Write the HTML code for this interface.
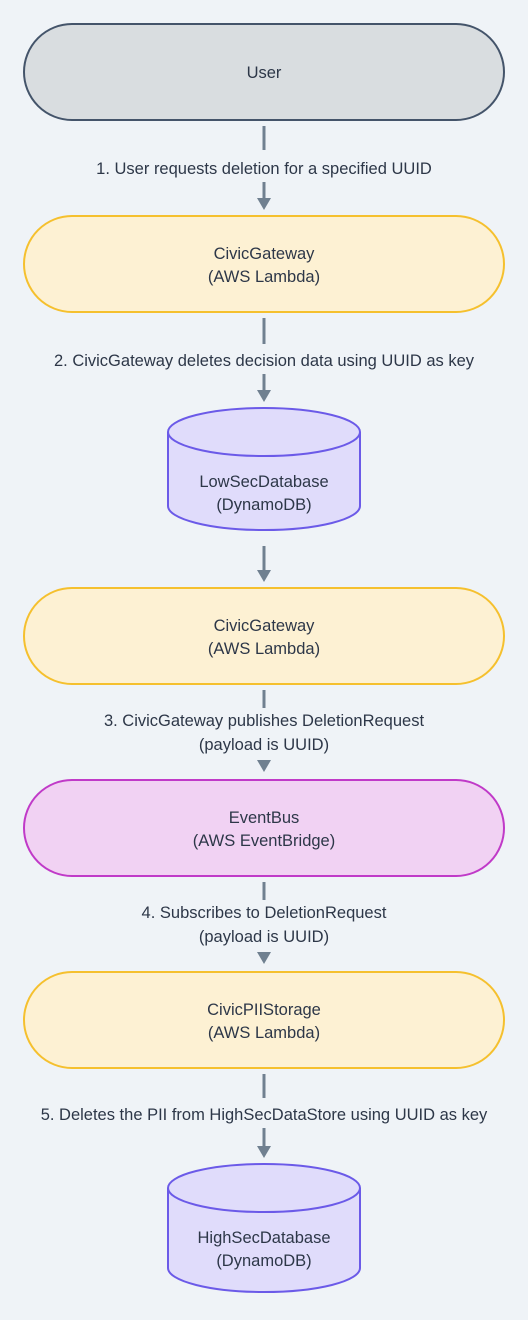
<!DOCTYPE html>
<html><head><style>
html,body{margin:0;padding:0;background:#eff3f7;}
svg{display:block;font-family:"Liberation Sans","DejaVu Sans",sans-serif;}
text{font-size:16.5px;fill:#2d3748;text-anchor:middle;}
</style></head><body>
<svg width="528" height="1320" viewBox="0 0 528 1320">
<g stroke="#708090" stroke-width="3" fill="none">
<line x1="264" y1="126" x2="264" y2="150"/><line x1="264" y1="182" x2="264" y2="200"/>
<line x1="264" y1="318" x2="264" y2="344"/><line x1="264" y1="374" x2="264" y2="392"/>
<line x1="264" y1="546" x2="264" y2="572"/>
<line x1="264" y1="690" x2="264" y2="708"/>
<line x1="264" y1="882" x2="264" y2="900"/>
<line x1="264" y1="1074" x2="264" y2="1098"/><line x1="264" y1="1128" x2="264" y2="1148"/>
</g>
<g fill="#708090">
<polygon points="257,198 271,198 264,210"/>
<polygon points="257,390 271,390 264,402"/>
<polygon points="257,570 271,570 264,582"/>
<polygon points="257,760 271,760 264,772"/>
<polygon points="257,952 271,952 264,964"/>
<polygon points="257,1146 271,1146 264,1158"/>
</g>
<text x="264" y="174">1. User requests deletion for a specified UUID</text>
<text x="264" y="366">2. CivicGateway deletes decision data using UUID as key</text>
<text x="264" y="726">3. CivicGateway publishes DeletionRequest</text>
<text x="264" y="750">(payload is UUID)</text>
<text x="264" y="918">4. Subscribes to DeletionRequest</text>
<text x="264" y="942">(payload is UUID)</text>
<text x="264" y="1120">5. Deletes the PII from HighSecDataStore using UUID as key</text>

<rect x="24" y="24" width="480" height="96" rx="48" fill="#d9dde0" stroke="#44546a" stroke-width="2"/>
<text x="264" y="78">User</text>

<rect x="24" y="216" width="480" height="96" rx="48" fill="#fdf1d3" stroke="#f5c02e" stroke-width="2"/>
<text x="264" y="259">CivicGateway</text><text x="264" y="282">(AWS Lambda)</text>

<path d="M168 432 A96 24 0 0 1 360 432 L360 506 A96 24 0 0 1 168 506 Z" fill="#e0dcfb" stroke="#6b5ae8" stroke-width="2"/>
<path d="M168 432 A96 24 0 0 0 360 432" fill="none" stroke="#6b5ae8" stroke-width="2"/>
<text x="264" y="487">LowSecDatabase</text><text x="264" y="510">(DynamoDB)</text>

<rect x="24" y="588" width="480" height="96" rx="48" fill="#fdf1d3" stroke="#f5c02e" stroke-width="2"/>
<text x="264" y="631">CivicGateway</text><text x="264" y="654">(AWS Lambda)</text>

<rect x="24" y="780" width="480" height="96" rx="48" fill="#f1d2f3" stroke="#c03ac8" stroke-width="2"/>
<text x="264" y="823">EventBus</text><text x="264" y="846">(AWS EventBridge)</text>

<rect x="24" y="972" width="480" height="96" rx="48" fill="#fdf1d3" stroke="#f5c02e" stroke-width="2"/>
<text x="264" y="1015">CivicPIIStorage</text><text x="264" y="1038">(AWS Lambda)</text>

<path d="M168 1188 A96 24 0 0 1 360 1188 L360 1268 A96 24 0 0 1 168 1268 Z" fill="#e0dcfb" stroke="#6b5ae8" stroke-width="2"/>
<path d="M168 1188 A96 24 0 0 0 360 1188" fill="none" stroke="#6b5ae8" stroke-width="2"/>
<text x="264" y="1243">HighSecDatabase</text><text x="264" y="1266">(DynamoDB)</text>
</svg>
</body></html>
